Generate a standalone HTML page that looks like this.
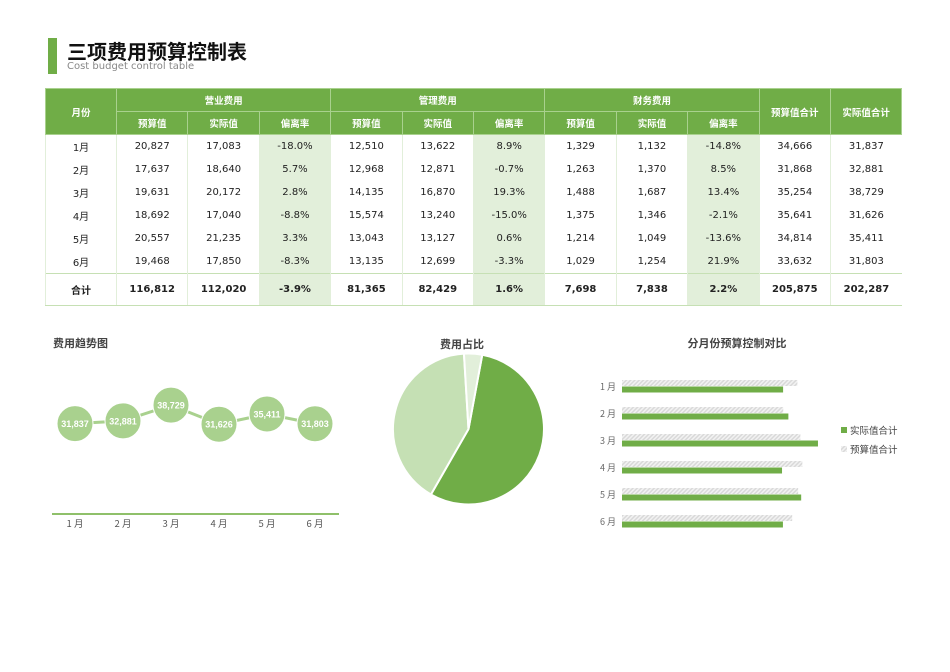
<!DOCTYPE html>
<html><head><meta charset="utf-8"><style>
body{margin:0;width:950px;height:672px;background:#fff;font-family:"DejaVu Sans","Liberation Sans","Noto Sans CJK SC",sans-serif;position:relative;overflow:hidden}
.abs{position:absolute}
table{border-collapse:collapse;table-layout:fixed;position:absolute;left:45px;top:88px;width:856px;font-size:10px;color:#222}
td,th{text-align:center;padding:0;white-space:nowrap}
th{background:#70ad47;color:#fff;font-weight:bold;font-size:9.5px;border:1px solid #a9d18e;height:22px}
tbody td{height:23px;border-left:1px solid #e2efda}
tbody td.d{background:#e2efda}
tr.tot td{font-weight:bold;height:31px;border-top:1px solid #c6e0b4;border-bottom:1px solid #c6e0b4}
</style></head><body>
<div class="abs" style="left:48px;top:38px;width:9px;height:36px;background:#70ad47"></div>
<div class="abs" style="left:67px;top:36px;font-size:20px;font-weight:bold;color:#111;font-family:'Noto Sans CJK SC',sans-serif">三项费用预算控制表</div>
<div class="abs" style="left:67px;top:61px;font-size:10px;color:#888">Cost budget control table</div>
<table>
<colgroup><col style="width:71px"><col span="11" style="width:71.4px"></colgroup>
<thead>
<tr><th rowspan="2">月份</th><th colspan="3">营业费用</th><th colspan="3">管理费用</th><th colspan="3">财务费用</th><th rowspan="2">预算值合计</th><th rowspan="2">实际值合计</th></tr>
<tr><th>预算值</th><th>实际值</th><th>偏离率</th><th>预算值</th><th>实际值</th><th>偏离率</th><th>预算值</th><th>实际值</th><th>偏离率</th></tr>
</thead>
<tbody id="tb"></tbody>
</table>
<svg class="abs" style="left:0;top:0" width="950" height="672" id="sv"></svg>
<script>
const months=["1月","2月","3月","4月","5月","6月"];
const rows=[
["20,827","17,083","-18.0%","12,510","13,622","8.9%","1,329","1,132","-14.8%","34,666","31,837"],
["17,637","18,640","5.7%","12,968","12,871","-0.7%","1,263","1,370","8.5%","31,868","32,881"],
["19,631","20,172","2.8%","14,135","16,870","19.3%","1,488","1,687","13.4%","35,254","38,729"],
["18,692","17,040","-8.8%","15,574","13,240","-15.0%","1,375","1,346","-2.1%","35,641","31,626"],
["20,557","21,235","3.3%","13,043","13,127","0.6%","1,214","1,049","-13.6%","34,814","35,411"],
["19,468","17,850","-8.3%","13,135","12,699","-3.3%","1,029","1,254","21.9%","33,632","31,803"]];
const totals=["116,812","112,020","-3.9%","81,365","82,429","1.6%","7,698","7,838","2.2%","205,875","202,287"];
const budgetTotals=[34666,31868,35254,35641,34814,33632];
const actualTotals=[31837,32881,38729,31626,35411,31803];
const pieLabels=["营业费用","管理费用","财务费用"];
const pieValues=[112020,82429,7838];
const tb=document.getElementById('tb');
function addRow(label,cells,cls,name){
  const tr=document.createElement('tr');if(cls)tr.className=cls;
  
  
  let h='<td>'+label+'</td>';
  cells.forEach((c,i)=>{h+='<td class="'+(i==2||i==5||i==8?'d':'')+'">'+c+'</td>';});
  tr.innerHTML=h;tb.appendChild(tr);
}
rows.forEach((r,i)=>addRow(months[i],r,'','row-month-'+(i+1)));
addRow('合计',totals,'tot','row-total');
const NS='http://www.w3.org/2000/svg',sv=document.getElementById('sv');
function el(t,a,txt){const e=document.createElementNS(NS,t);for(const k in a)e.setAttribute(k,a[k]);if(txt!=null)e.textContent=txt;sv.appendChild(e);return e;}
const CJK="'Noto Sans CJK SC',sans-serif";
// titles
let t;
t=el('text',{x:53,y:347,'font-size':11,'font-weight':'bold',fill:'#444','font-family':CJK},'费用趋势图');

t=el('text',{x:462,y:348,'font-size':11,'font-weight':'bold',fill:'#444','text-anchor':'middle','font-family':CJK},'费用占比');

t=el('text',{x:737,y:347,'font-size':11,'font-weight':'bold',fill:'#444','text-anchor':'middle','font-family':CJK},'分月份预算控制对比');

// trend chart
const lx=i=>75+i*48, ly=v=>424-(v-31700)*0.00268;
t=el('line',{x1:52,x2:339,y1:514,y2:514,stroke:'#8fc06a','stroke-width':2});

t=el('polyline',{points:actualTotals.map((v,i)=>lx(i)+','+ly(v)).join(' '),fill:'none',stroke:'#a9d18e','stroke-width':3});

actualTotals.forEach((v,i)=>{
  const c=el('circle',{cx:lx(i),cy:ly(v),r:18,fill:'#a9d18e',stroke:'#fff','stroke-width':1});
  
  
  const l=el('text',{x:lx(i),y:ly(v)+3.5,'font-size':9,'font-weight':'bold',fill:'#fff','text-anchor':'middle','font-family':'Liberation Sans,sans-serif'},v.toLocaleString('en-US'));
  
  
  const m=el('text',{x:lx(i),y:527,'font-size':9.5,fill:'#555','text-anchor':'middle','font-family':CJK},months[i].replace('月',' 月'));
  
  
});
// pie
const cx=468.5,cy=429,R=75.5,pieColors=['#70ad47','#c5e0b4','#e2efda'];
const sum=pieValues.reduce((a,b)=>a+b,0);let ang=10.5*Math.PI/180;
pieValues.forEach((v,i)=>{
  const a2=ang+v/sum*2*Math.PI;
  const p=(a)=>(cx+R*Math.sin(a)).toFixed(2)+','+(cy-R*Math.cos(a)).toFixed(2);
  const s=el('path',{d:'M'+cx+','+cy+' L'+p(ang)+' A'+R+','+R+' 0 '+((a2-ang)>Math.PI?1:0)+' 1 '+p(a2)+' Z',fill:pieColors[i],stroke:'#fff','stroke-width':2});
  
  
  ang=a2;
});
// bar chart
const defs=el('defs',{});
defs.innerHTML='<pattern id="hp" width="3" height="3" patternUnits="userSpaceOnUse" patternTransform="rotate(45)"><rect width="3" height="3" fill="#f2f2f2"/><rect width="1.5" height="3" fill="#d9d9d9"/></pattern>';
const bx=v=>622+v*0.00506, by=i=>380+i*27;
budgetTotals.forEach((v,i)=>{
  const b=el('rect',{x:622,y:by(i),width:bx(v)-622,height:6,fill:'url(#hp)'});
  
  
  const a=el('rect',{x:622,y:by(i)+6.5,width:bx(actualTotals[i])-622,height:6,fill:'#70ad47'});
  
  
  const m=el('text',{x:616,y:by(i)+10,'font-size':9,fill:'#666','text-anchor':'end','font-family':CJK},months[i].replace('月',' 月'));
  
  
});
t=el('rect',{x:841,y:427,width:6,height:6,fill:'#70ad47'});
t=el('text',{x:850,y:434,'font-size':9.5,fill:'#444','font-family':CJK},'实际值合计');
t=el('rect',{x:841,y:446,width:6,height:6,fill:'url(#hp)'});
t=el('text',{x:850,y:453,'font-size':9.5,fill:'#444','font-family':CJK},'预算值合计');
</script>
</body></html>
